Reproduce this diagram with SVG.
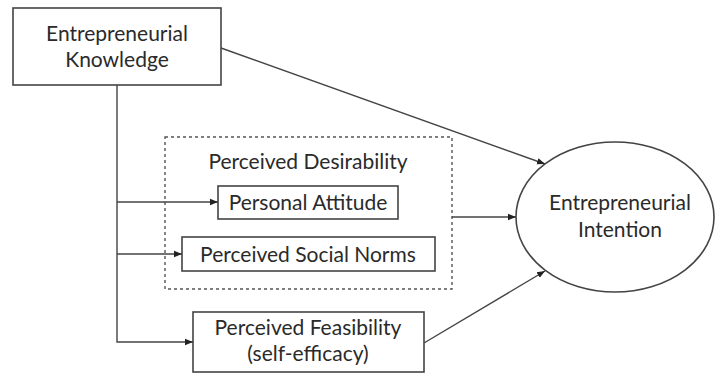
<svg xmlns="http://www.w3.org/2000/svg" width="715" height="373" viewBox="0 0 715 373">
<style>
.box{fill:#fff;stroke:#444;stroke-width:1.6}
.t{font-family:Lato,"Open Sans",sans-serif;font-size:21px;fill:#2a2a2a;text-anchor:middle}
.c{fill:none;stroke:#444;stroke-width:1.4}
</style>
<defs>
<marker id="ah" viewBox="0 0 10 10" refX="10" refY="5" markerWidth="8" markerHeight="8" markerUnits="userSpaceOnUse" orient="auto">
<path d="M0,1 L10,5 L0,9 z" fill="#222"/>
</marker>
</defs>
<rect width="715" height="373" fill="#fff"/>
<g id="desirability">
<rect x="165" y="137" width="287" height="152" fill="none" stroke="#555" stroke-width="1.4" stroke-dasharray="3,3"/>
<text class="t" x="308" y="169">Perceived Desirability</text>
</g>
<g id="knowledge">
<rect class="box" x="13" y="8" width="208" height="77"/>
<text class="t" x="117" y="41">Entrepreneurial</text>
<text class="t" x="117" y="67">Knowledge</text>
</g>
<g id="attitude">
<rect class="box" x="218" y="186" width="180" height="33"/>
<text class="t" x="308" y="210">Personal Attitude</text>
</g>
<g id="norms">
<rect class="box" x="182" y="237" width="253" height="34"/>
<text class="t" x="308" y="262">Perceived Social Norms</text>
</g>
<g id="feasibility">
<rect class="box" x="193" y="312" width="231" height="60"/>
<text class="t" x="308" y="335">Perceived Feasibility</text>
<text class="t" x="308" y="361">(self-efficacy)</text>
</g>
<g id="intention">
<ellipse class="box" cx="615" cy="217" rx="99" ry="75"/>
<text class="t" x="620" y="210">Entrepreneurial</text>
<text class="t" x="620" y="237">Intention</text>
</g>
<g id="connectors">
<path class="c" d="M117,85 V342 H193" marker-end="url(#ah)"/>
<path class="c" d="M117,202 H218" marker-end="url(#ah)"/>
<path class="c" d="M117,254 H182" marker-end="url(#ah)"/>
<path class="c" d="M452,217 H516" marker-end="url(#ah)"/>
<path class="c" d="M221,48 L545,164" marker-end="url(#ah)"/>
<path class="c" d="M424,343 L545,271" marker-end="url(#ah)"/>
</g>
</svg>
